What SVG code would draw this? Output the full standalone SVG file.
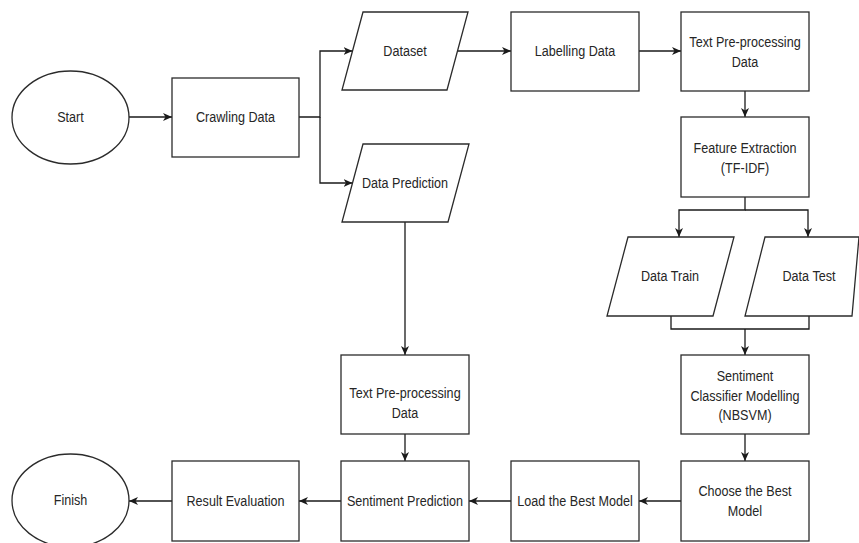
<svg xmlns="http://www.w3.org/2000/svg" width="859" height="543" viewBox="0 0 859 543">
<defs>
<style>
.n{fill:#fff;stroke:#2b2b2b;stroke-width:1.3}
.t{font-family:"Liberation Sans",Arial,sans-serif;font-size:15px;fill:#262626;text-anchor:middle;dominant-baseline:central;transform-box:fill-box;transform-origin:center;transform:scaleX(0.84)}
.c{fill:none;stroke:#1a1a1a;stroke-width:1.3}
.a{marker-end:url(#arr)}
</style>
<marker id="arr" markerUnits="userSpaceOnUse" markerWidth="10" markerHeight="10" refX="9" refY="5" orient="auto">
<path d="M0,1 L9,5 L0,9 L2.5,5 Z" fill="#1a1a1a"/>
</marker>
</defs>
<rect width="859" height="543" fill="#fff"/>
<g id="connectors">
<path class="c a" d="M129,117 H172"/>
<path class="c a" d="M299,117 H320 V51 H352.5"/>
<path class="c a" d="M320,117 V183 H352.5"/>
<path class="c a" d="M457.5,51 H511"/>
<path class="c a" d="M639,51 H681"/>
<path class="c a" d="M745,91 V117"/>
<path class="c a" d="M745,197 V210 H679 V237"/>
<path class="c a" d="M745,210 H808 V237"/>
<path class="c" d="M671,316 V329 H809 V316"/>
<path class="c a" d="M745,329 V355"/>
<path class="c a" d="M405,222 V355"/>
<path class="c a" d="M405,434 V461"/>
<path class="c a" d="M745,434 V461"/>
<path class="c a" d="M681,501 H639"/>
<path class="c a" d="M511,501 H469"/>
<path class="c a" d="M341,501 H299"/>
<path class="c a" d="M172,501 H129"/>
</g>
<g id="start"><ellipse class="n" cx="70.5" cy="117.5" rx="58.5" ry="46.5"/><text class="t" x="70.5" y="117">Start</text></g>
<g id="crawling"><rect class="n" x="172" y="78" width="127" height="79"/><text class="t" x="235.5" y="117">Crawling Data</text></g>
<g id="dataset"><polygon class="n" points="363,12 468,12 447,90 342,90"/><text class="t" x="405" y="51">Dataset</text></g>
<g id="dataprediction"><polygon class="n" points="363,144 469,144 448,222 342,222"/><text class="t" x="405" y="183">Data Prediction</text></g>
<g id="labelling"><rect class="n" x="511" y="12" width="128" height="79"/><text class="t" x="575" y="51">Labelling Data</text></g>
<g id="textpre1"><rect class="n" x="681" y="12" width="128" height="79"/><text class="t" x="745" y="42">Text Pre-processing</text><text class="t" x="745" y="62">Data</text></g>
<g id="feature"><rect class="n" x="681" y="117" width="128" height="80"/><text class="t" x="745" y="148">Feature Extraction</text><text class="t" x="745" y="168">(TF-IDF)</text></g>
<g id="datatrain"><polygon class="n" points="628,237 734,237 713,316 607,316"/><text class="t" x="670" y="276">Data Train</text></g>
<g id="datatest"><polygon class="n" points="765,237 859,237 852,316 745,316"/><text class="t" x="809" y="276">Data Test</text></g>
<g id="classifier"><rect class="n" x="681" y="355" width="128" height="79"/><text class="t" x="745" y="376">Sentiment</text><text class="t" x="745" y="395.5">Classifier Modelling</text><text class="t" x="745" y="415">(NBSVM)</text></g>
<g id="choose"><rect class="n" x="681" y="461" width="128" height="80"/><text class="t" x="745" y="491">Choose the Best</text><text class="t" x="745" y="511">Model</text></g>
<g id="load"><rect class="n" x="511" y="461" width="128" height="80"/><text class="t" x="575" y="501">Load the Best Model</text></g>
<g id="textpre2"><rect class="n" x="341" y="355" width="128" height="79"/><text class="t" x="405" y="393">Text Pre-processing</text><text class="t" x="405" y="413">Data</text></g>
<g id="sentpred"><rect class="n" x="341" y="461" width="128" height="80"/><text class="t" x="405" y="501">Sentiment Prediction</text></g>
<g id="result"><rect class="n" x="172" y="461" width="127" height="80"/><text class="t" x="235.5" y="501">Result Evaluation</text></g>
<g id="finish"><ellipse class="n" cx="70.5" cy="500.5" rx="58.5" ry="46.5"/><text class="t" x="70.5" y="500">Finish</text></g>
</svg>
